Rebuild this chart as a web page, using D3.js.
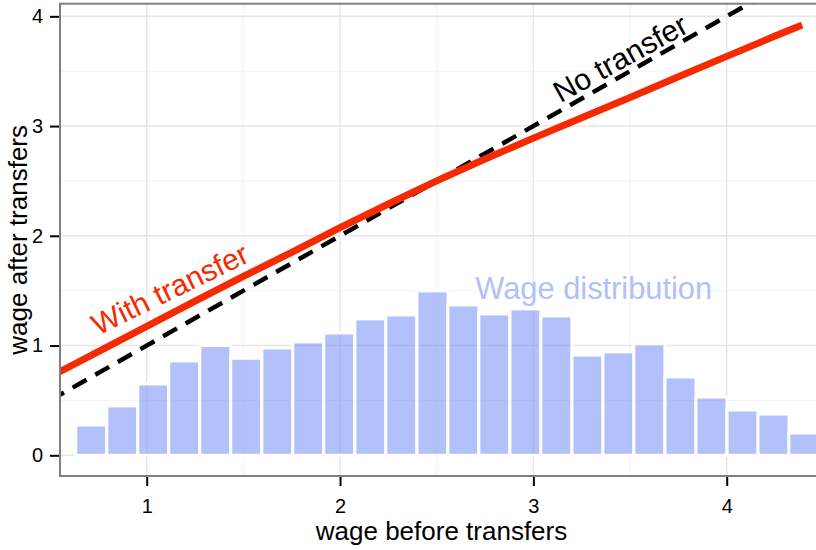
<!DOCTYPE html>
<html>
<head>
<meta charset="utf-8">
<script src="https://cdn.jsdelivr.net/npm/d3@7"></script>
<style>
  html, body { margin: 0; padding: 0; background: #fff; }
  svg { display: block; }
  text { font-family: "Liberation Sans", Arial, Helvetica, sans-serif; }
</style>
</head>
<body>
<svg id="chart" width="816" height="550"></svg>
<script>
// ---- data ----
const binCenters = [0.713, 0.874, 1.034, 1.194, 1.355, 1.515, 1.676, 1.836, 1.996, 2.157, 2.317, 2.478,
                    2.638, 2.798, 2.959, 3.119, 3.280, 3.440, 3.600, 3.761, 3.921, 4.082, 4.242, 4.402];
const binWidth = 0.1604;
const density = [0.276, 0.45, 0.65, 0.86, 1.0, 0.884, 0.978, 1.033, 1.115, 1.243, 1.279, 1.498,
                 1.370, 1.288, 1.334, 1.270, 0.914, 0.942, 1.015, 0.714, 0.531, 0.413, 0.376, 0.203];
const withX = [0.5, 0.75, 1.0, 1.25, 1.5, 1.75, 2.0, 2.25, 2.5, 2.75, 3.0, 3.25, 3.5, 3.75, 4.0, 4.25, 4.39];
const withY = [0.715, 0.945, 1.175, 1.405, 1.63, 1.85, 2.075, 2.29, 2.50, 2.70, 2.89, 3.075, 3.26, 3.45, 3.635, 3.82, 3.92];
const noX = [0.5, 4.5];
const noY = [0.5, 4.5];
const xTicks = [1, 2, 3, 4];
const yTicks = [0, 1, 2, 3, 4];
const xMinor = [0.5, 1.5, 2.5, 3.5, 4.5];
const yMinor = [0.5, 1.5, 2.5, 3.5];
const labels = [
  { text: "With transfer", x: 1.12, y: 1.516, angle: -26, color: "#f62a00", size: 30 },
  { text: "No transfer", x: 3.449, y: 3.619, angle: -29, color: "#000000", size: 30 },
  { text: "Wage distribution", x: 3.312, y: 1.52, angle: 0, color: "#b2c0f9", size: 30.8 }
];

// ---- layout ----
const svg = d3.select("#chart");
const L = 60, R = 823, T = 3.7, B = 476;
const x = d3.scaleLinear().domain([0.5516, 4.498]).range([L, R]);
const y = d3.scaleLinear().domain([-0.1886, 4.115]).range([B, T]);

svg.append("defs").append("clipPath").attr("id", "panel")
  .append("rect").attr("x", L).attr("y", T).attr("width", R - L).attr("height", B - T);

const g = svg.append("g").attr("clip-path", "url(#panel)");

// grid
g.selectAll(".xminor").data(xMinor).join("line")
  .attr("x1", d => x(d)).attr("x2", d => x(d)).attr("y1", T).attr("y2", B)
  .attr("stroke", "#f3f3f3").attr("stroke-width", 1.1);
g.selectAll(".yminor").data(yMinor).join("line")
  .attr("y1", d => y(d)).attr("y2", d => y(d)).attr("x1", L).attr("x2", R)
  .attr("stroke", "#f3f3f3").attr("stroke-width", 1.1);
g.selectAll(".xmajor").data(xTicks).join("line")
  .attr("x1", d => x(d)).attr("x2", d => x(d)).attr("y1", T).attr("y2", B)
  .attr("stroke", "#e6e6e6").attr("stroke-width", 1.4);
g.selectAll(".ymajor").data(yTicks).join("line")
  .attr("y1", d => y(d)).attr("y2", d => y(d)).attr("x1", L).attr("x2", R)
  .attr("stroke", "#e6e6e6").attr("stroke-width", 1.4);

// bars
g.selectAll(".bar").data(binCenters).join("rect")
  .attr("x", d => x(d - binWidth / 2))
  .attr("width", d => x(d + binWidth / 2) - x(d - binWidth / 2))
  .attr("y", (d, i) => y(density[i]))
  .attr("height", (d, i) => y(0) - y(density[i]))
  .attr("fill", "rgba(103,131,245,0.5)")
  .attr("stroke", "#ffffff").attr("stroke-width", 3);

// lines
const line = d3.line().x(d => x(d[0])).y(d => y(d[1]));
g.append("path").datum(noX.map((v, i) => [v, noY[i]]))
  .attr("d", line).attr("fill", "none").attr("stroke", "#000")
  .attr("stroke-width", 4.5).attr("stroke-dasharray", "16,10");
g.append("path").datum(withX.map((v, i) => [v, withY[i]]))
  .attr("d", line).attr("fill", "none").attr("stroke", "#f62a00")
  .attr("stroke-width", 7);

// annotations
labels.forEach(l => {
  g.append("text")
    .attr("transform", `translate(${x(l.x)},${y(l.y)}) rotate(${l.angle})`)
    .attr("text-anchor", "middle").attr("dy", "0.35em")
    .attr("font-size", l.size).attr("fill", l.color).text(l.text);
});

// panel border
svg.append("rect").attr("x", L).attr("y", T).attr("width", R - L).attr("height", B - T)
  .attr("fill", "none").attr("stroke", "#7f7f7f").attr("stroke-width", 2);

// axes
const yAxis = svg.append("g").attr("transform", `translate(${L - 1},0)`)
  .call(d3.axisLeft(y).tickValues(yTicks).tickSize(9).tickPadding(7).tickFormat(d3.format("d")));
const xAxis = svg.append("g").attr("transform", `translate(0,${B + 1})`)
  .call(d3.axisBottom(x).tickValues(xTicks).tickSize(9).tickPadding(13).tickFormat(d3.format("d")));
[yAxis, xAxis].forEach(a => {
  a.select(".domain").remove();
  a.selectAll(".tick line").attr("stroke", "#000").attr("stroke-width", 2);
  a.selectAll(".tick text").attr("font-size", 20).attr("fill", "#000")
    .attr("font-family", '"Liberation Sans", Arial, Helvetica, sans-serif');
});

// axis titles
svg.append("text").attr("x", (L + R) / 2).attr("y", 540).attr("text-anchor", "middle")
  .attr("font-size", 26).attr("fill", "#000").text("wage before transfers");
svg.append("text").attr("transform", `translate(27,${(T + B) / 2}) rotate(-90)`)
  .attr("text-anchor", "middle").attr("font-size", 26).attr("fill", "#000").text("wage after transfers");
</script>
</body>
</html>
